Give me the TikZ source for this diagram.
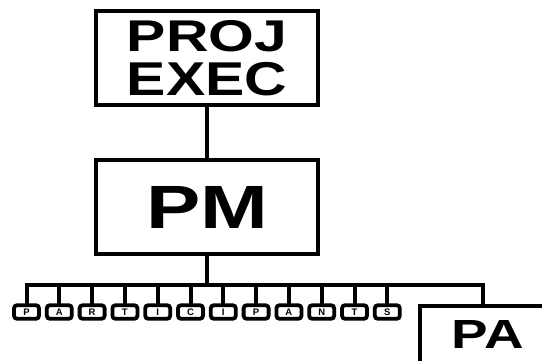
\documentclass[tikz,border=0pt]{standalone}
\usepackage{fontspec}
\setmainfont{Liberation Sans}
\usepackage{graphicx}

% caps stretched to a given width and height (in pt)
\newcommand{\fitcaps}[3]{\resizebox{#1pt}{#2pt}{\bfseries #3}}

\begin{document}
\begin{tikzpicture}[x=1pt, y=-1pt, line width=4pt,
  bigbox/.style={draw, minimum width=222pt, minimum height=94pt,
    inner sep=0pt, outer sep=0pt, align=center,
    font=\fontsize{1}{1}\selectfont},
  letterbox/.style={draw, line width=3.8pt, rounded corners=3pt,
    minimum width=25pt, minimum height=13.5pt, inner sep=0pt, outer sep=0pt,
    font=\bfseries\fontsize{9.5}{9.5}\selectfont}]
  \useasboundingbox (0,0) rectangle (542,360);
  \clip (0,0) rectangle (542,360);

  % boxes
  \node[bigbox] (projexec) at (207,58)
    {\fitcaps{160}{31}{PROJ}\\[9pt]\fitcaps{160}{33}{EXEC}};
  \node[bigbox] (pm) at (207,207) {\fitcaps{122}{42}{PM}};
  \node[draw, anchor=north west, minimum width=200pt, minimum height=100pt,
    inner sep=0pt, outer sep=0pt] (pabox) at (420,306) {};
  \node (pa) at (488,334) {\fitcaps{72}{28}{PA}};

  % participants
  \foreach \l [count=\i from 0] in {P,A,R,T,I,C,I,P,A,N,T,S}
    \node[letterbox] (p\i) at ({26.5+32.8*\i},312) {\l};

  % bus
  \coordinate (busR) at (483,285);
  \draw (projexec) -- (pm);
  \draw (pm.south) -- (pm.south |- busR);
  \draw (p0.north) |- (busR) -- (busR |- pabox.north);
  \foreach \i in {1,...,11}
    \draw (p\i.north) -- (p\i.north |- busR);
\end{tikzpicture}
\end{document}
